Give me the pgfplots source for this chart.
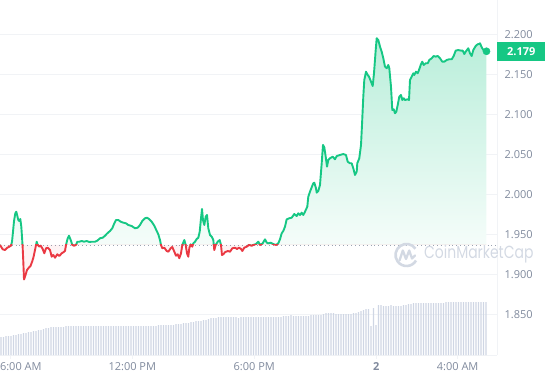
\documentclass[border=0pt]{standalone}
\usepackage{fontspec}
\setmainfont{Open Sans}
\newfontfamily\pop{Poppins}
\usepackage{pgfplots}
\pgfplotsset{compat=1.18}
\usepackage{pgfplotstable}
\definecolor{cmcgreen}{HTML}{16C784}
\definecolor{cmcred}{HTML}{EA3943}
\definecolor{labelc}{HTML}{808A9D}
\definecolor{gridc}{HTML}{F1F3F6}
\definecolor{volc}{HTML}{CFD6E4}
\definecolor{wmc}{HTML}{D3D9E3}
\definecolor{basec}{HTML}{9AA3B2}

\pgfplotstableread{
t v
-0.507 1.9369
-0.374 1.9315
-0.261 1.9306
-0.148 1.9335
-0.049 1.9348
0.034 1.9360
0.084 1.9410
0.133 1.9535
0.182 1.9669
0.246 1.9765
0.295 1.9785
0.344 1.9735
0.393 1.9681
0.443 1.9669
0.492 1.9694
0.541 1.9598
0.575 1.9473
0.610 1.9328
0.639 1.9160
0.674 1.8938
0.748 1.8994
0.821 1.9056
0.920 1.9088
0.993 1.9106
1.067 1.9156
1.131 1.9206
1.215 1.9306
1.298 1.9410
1.348 1.9369
1.426 1.9348
1.495 1.9360
1.593 1.9319
1.672 1.9265
1.756 1.9328
1.839 1.9335
1.953 1.9306
2.036 1.9223
2.115 1.9244
2.198 1.9210
2.312 1.9253
2.410 1.9231
2.528 1.9265
2.607 1.9278
2.690 1.9294
2.739 1.9369
2.823 1.9453
2.887 1.9485
2.971 1.9431
3.049 1.9369
3.133 1.9360
3.231 1.9369
3.295 1.9410
3.394 1.9410
3.512 1.9419
3.625 1.9410
3.757 1.9419
3.885 1.9406
4.003 1.9410
4.166 1.9410
4.279 1.9423
4.412 1.9453
4.544 1.9460
4.658 1.9485
4.771 1.9515
4.903 1.9544
5.016 1.9578
5.115 1.9640
5.198 1.9681
5.312 1.9681
5.430 1.9660
5.557 1.9648
5.690 1.9640
5.803 1.9619
5.971 1.9606
6.133 1.9578
6.266 1.9585
6.379 1.9619
6.492 1.9669
6.625 1.9703
6.723 1.9710
6.821 1.9694
6.954 1.9660
7.082 1.9610
7.200 1.9544
7.279 1.9503
7.362 1.9431
7.412 1.9369
7.475 1.9328
7.574 1.9335
7.692 1.9294
7.771 1.9285
7.889 1.9328
7.967 1.9344
8.066 1.9285
8.149 1.9235
8.233 1.9253
8.312 1.9203
8.395 1.9265
8.459 1.9369
8.558 1.9431
8.626 1.9369
8.690 1.9265
8.754 1.9223
8.803 1.9328
8.872 1.9378
8.951 1.9348
9.000 1.9390
9.084 1.9410
9.167 1.9444
9.246 1.9460
9.315 1.9535
9.379 1.9703
9.428 1.9819
9.477 1.9681
9.541 1.9619
9.610 1.9723
9.674 1.9744
9.738 1.9578
9.821 1.9494
9.905 1.9473
9.984 1.9431
10.033 1.9306
10.102 1.9369
10.200 1.9410
10.298 1.9431
10.362 1.9369
10.411 1.9244
10.475 1.9253
10.559 1.9278
10.692 1.9294
10.805 1.9285
10.918 1.9328
11.051 1.9335
11.149 1.9319
11.248 1.9335
11.346 1.9319
11.410 1.9294
11.508 1.9335
11.626 1.9348
11.740 1.9369
11.872 1.9360
11.951 1.9369
12.084 1.9381
12.197 1.9410
12.281 1.9369
12.413 1.9390
12.526 1.9440
12.610 1.9398
12.689 1.9390
12.807 1.9398
12.935 1.9381
13.067 1.9369
13.180 1.9390
13.264 1.9440
13.347 1.9515
13.426 1.9544
13.510 1.9598
13.593 1.9690
13.721 1.9703
13.839 1.9710
13.967 1.9756
14.085 1.9731
14.164 1.9765
14.247 1.9744
14.331 1.9773
14.410 1.9744
14.493 1.9785
14.607 1.9848
14.656 1.9973
14.739 2.0035
14.823 2.0090
14.902 2.0140
14.951 2.0148
15.034 2.0078
15.069 2.0023
15.148 2.0044
15.231 2.0119
15.315 2.0390
15.379 2.0619
15.443 2.0590
15.512 2.0473
15.576 2.0348
15.640 2.0431
15.723 2.0453
15.856 2.0473
15.969 2.0440
16.053 2.0481
16.215 2.0494
16.377 2.0506
16.510 2.0494
16.594 2.0410
16.707 2.0390
16.790 2.0390
16.869 2.0328
16.953 2.0244
17.036 2.0285
17.066 2.0390
17.164 2.0453
17.248 2.0619
17.297 2.0869
17.361 2.1223
17.410 2.1431
17.494 2.1535
17.577 2.1494
17.641 2.1473
17.740 2.1410
17.823 2.1356
17.887 2.1515
17.971 2.1806
18.020 2.1953
18.099 2.1931
18.183 2.1848
18.266 2.1785
18.345 2.1703
18.428 2.1598
18.512 2.1578
18.591 2.1619
18.640 2.1578
18.723 2.1348
18.787 2.1056
18.856 2.1065
18.920 2.1015
18.984 2.1035
19.053 2.1119
19.132 2.1223
19.215 2.1244
19.279 2.1181
19.348 2.1203
19.412 2.1181
19.545 2.1190
19.609 2.1181
19.658 2.1431
19.741 2.1473
19.820 2.1515
19.869 2.1494
19.953 2.1535
20.036 2.1515
20.100 2.1556
20.184 2.1619
20.262 2.1660
20.331 2.1619
20.430 2.1640
20.528 2.1640
20.607 2.1681
20.725 2.1703
20.823 2.1731
20.922 2.1723
21.020 2.1731
21.133 2.1703
21.246 2.1660
21.345 2.1660
21.463 2.1681
21.576 2.1690
21.709 2.1690
21.807 2.1731
21.905 2.1798
22.033 2.1806
22.166 2.1798
22.249 2.1798
22.328 2.1756
22.397 2.1785
22.525 2.1828
22.609 2.1765
22.692 2.1731
22.771 2.1806
22.889 2.1856
22.987 2.1878
23.066 2.1881
23.101 2.1890
23.184 2.1840
23.263 2.1806
23.420 2.1790
}\price

\pgfplotstableread[row sep=\\]{h\\
18\\18\\19\\19\\19\\20\\20\\21\\21\\22\\22\\23\\23\\24\\24\\25\\25\\26\\27\\27\\
28\\28\\28\\28\\28\\28\\29\\
29\\29\\29\\29\\29\\29\\29\\29\\29\\29\\29\\29\\29\\29\\29\\29\\29\\29\\
29\\29\\29\\29\\29\\29\\29\\29\\29\\29\\29\\29\\29\\29\\29\\29\\29\\29\\
30\\30\\30\\30\\30\\30\\30\\31\\31\\31\\32\\32\\32\\33\\33\\34\\34\\34\\35\\35\\36\\37\\37\\37\\38\\
38\\38\\38\\38\\38\\38\\38\\37\\38\\38\\38\\38\\38\\38\\38\\38\\38\\38\\38\\38\\38\\38\\38\\38\\38\\
39\\39\\39\\40\\39\\39\\39\\39\\39\\39\\39\\40\\40\\40\\40\\40\\41\\42\\42\\42\\42\\
41\\41\\41\\41\\41\\41\\41\\42\\42\\43\\44\\45\\46\\46\\29\\47\\30\\50\\50\\
49\\49\\49\\50\\49\\49\\49\\49\\50\\50\\51\\51\\
52\\52\\52\\52\\52\\52\\52\\52\\52\\52\\52\\52\\52\\
53\\53\\53\\53\\53\\53\\53\\53\\53\\53\\53\\53\\53\\53\\53\\53\\53\\
}\vol

\begin{document}
\begin{tikzpicture}[x=1pt,y=1pt]
\useasboundingbox (0,0) rectangle (545,380);
\clip (0,0) rectangle (545,380);
\begin{axis}[
  at={(0pt,25pt)}, anchor=south west, scale only axis,
  width=497pt, height=355pt,
  xmin=-0.507, xmax=23.937, ymin=1.7994, ymax=2.2431,
  axis x line*=bottom, axis y line*=right,
  axis line style={draw=gridc, line width=0.8pt},
  ytick={1.85,1.9,1.95,2,2.05,2.1,2.15,2.2},
  ymajorgrids, grid style={draw=gridc, line width=0.8pt},
  yticklabel pos=right,
  yticklabel style={/pgf/number format/.cd, fixed, fixed zerofill, precision=3, assume math mode=true},
  xtick={0,6,12,18,22},
  xticklabels={\makebox[0pt][l]{\hspace*{-10.3pt}6:00 AM}, 12:00 PM, 6:00 PM, \textbf{2}, 4:00 AM},
  tick align=outside,
  major tick length=4pt,
  ytick style={draw=none},
  xtick style={draw=gridc, line width=0.8pt},
  tick label style={font=\fontsize{11}{13}\selectfont, text=labelc},
]
\addplot[basec, line width=0.9pt, dash pattern=on 0.9pt off 3pt] coordinates {(-0.507,1.9369) (23.937,1.9369)};
\begin{scope}
\clip (axis cs:-1,1.9369) rectangle (axis cs:25,2.3);
\addplot[draw=none, top color=cmcgreen!30, bottom color=white] table[x=t,y=v]{\price} -- (axis cs:23.420,1.9369) -- (axis cs:-0.507,1.9369) -- cycle;
\addplot[cmcgreen, line width=1.9pt, line join=round] table[x=t,y=v]{\price};
\end{scope}
\begin{scope}
\clip (axis cs:-1,1.7) rectangle (axis cs:25,1.9369);
\addplot[draw=none, fill=cmcred, fill opacity=0.06] table[x=t,y=v]{\price} -- (axis cs:23.420,1.9369) -- (axis cs:-0.507,1.9369) -- cycle;
\addplot[cmcred, line width=1.9pt, line join=round] table[x=t,y=v]{\price};
\end{scope}
\addplot[only marks, mark=*, mark size=3.6pt, mark options={fill=cmcgreen, draw=cmcgreen}] coordinates {(23.420,2.1790)};
\end{axis}
\begin{axis}[
  at={(0pt,25pt)}, anchor=south west, scale only axis,
  width=497pt, height=355pt,
  xmin=-0.507, xmax=23.937, ymin=0, ymax=355, hide axis]
\addplot[ybar, bar width=1.4pt, fill=volc, draw=none] table[x expr={-0.4574+0.12295*\coordindex}, y=h]{\vol};
\end{axis}
% price badge
\node[anchor=west, fill=cmcgreen, minimum width=48pt, minimum height=19pt, inner sep=0pt, text=white, font=\bfseries\fontsize{11}{13}\selectfont] at (497,328.5) {2.179};
% watermark
\draw[wmc, line width=2.6pt] (406.5,125) ++(35:11) arc (35:330:11);
\draw[wmc, line width=2.3pt, line join=round, line cap=round] (399.5,119.5) -- (402.8,129.5) -- (406,121) -- (409.2,129.5) -- (412,121.5) -- (415,124.5);
\node[anchor=west, inner sep=0pt, text=wmc, font=\pop\fontsize{15}{17}\selectfont] at (424,125.5) {\scalebox{0.93}[1.17]{CoinMarketCap}};
\end{tikzpicture}
\end{document}
